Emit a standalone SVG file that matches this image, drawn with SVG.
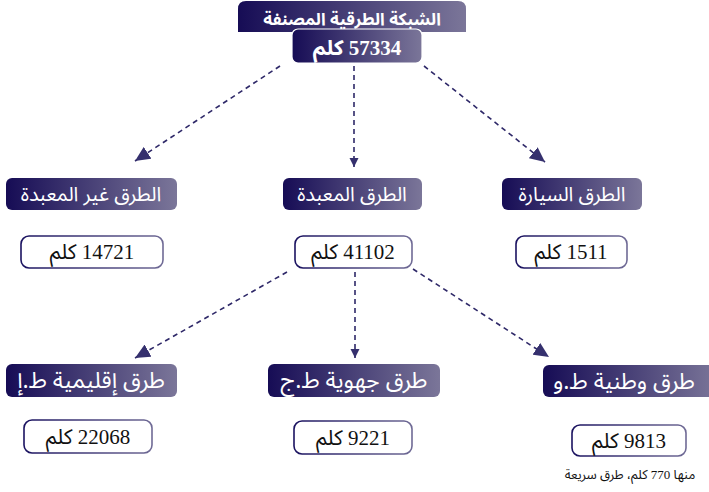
<svg xmlns="http://www.w3.org/2000/svg" width="709" height="492" viewBox="0 0 709 492">
<defs>
<linearGradient id="g" x1="0" y1="0" x2="1" y2="0">
<stop offset="0" stop-color="#160c55"/>
<stop offset="1" stop-color="#7b7699"/>
</linearGradient>
<linearGradient id="gs" x1="0" y1="0" x2="1" y2="0">
<stop offset="0" stop-color="#1a1260"/>
<stop offset="1" stop-color="#6f6a95"/>
</linearGradient>
<marker id="ab" markerUnits="userSpaceOnUse" markerWidth="16" markerHeight="14" refX="15" refY="7" orient="auto">
<path d="M0,0 L15,7 L0,14 Z" fill="#35306e"/>
</marker>
<marker id="as" markerUnits="userSpaceOnUse" markerWidth="10" markerHeight="10" refX="9" refY="4.5" orient="auto">
<path d="M0,0 L9,4.5 L0,9 Z" fill="#35306e"/>
</marker>
<style>
.hd{fill:url(#g)}
.hdt{font-family:"Noto Sans Arabic","DejaVu Sans",sans-serif;fill:#fff;text-anchor:middle;direction:rtl}
.wb{fill:#fff;stroke:url(#gs);stroke-width:1.6}
.wbt{font-family:"Liberation Serif","Noto Sans Arabic","DejaVu Sans",serif;font-size:21px;fill:#111;text-anchor:middle;direction:rtl}
.cn{fill:none;stroke:#2e2868;stroke-width:1.6;stroke-dasharray:5 4}
</style>
</defs>
<g id="connectors">
<line class="cn" x1="280" y1="66" x2="135" y2="161" marker-end="url(#ab)"/>
<line class="cn" x1="354" y1="66" x2="354" y2="167" marker-end="url(#as)"/>
<line class="cn" x1="424" y1="66" x2="545" y2="162" marker-end="url(#ab)"/>
<line class="cn" x1="287" y1="272" x2="135" y2="358" marker-end="url(#ab)"/>
<line class="cn" x1="355" y1="272" x2="355" y2="358" marker-end="url(#as)"/>
<line class="cn" x1="413" y1="269" x2="549" y2="357" marker-end="url(#ab)"/>
</g>
<g id="root">
<path class="hd" d="M238,32 L238,9 Q238,1 246,1 L458,1 Q466,1 466,9 L466,32 Z"/>
<text class="hdt" x="352" y="25" font-size="17" font-weight="bold">الشبكة الطرقية المصنفة</text>
<rect class="hd" x="292" y="29" width="130" height="34" rx="6" stroke="#fff" stroke-width="1.2"/>
<text class="hdt" x="357" y="55" font-size="21" font-weight="bold" style="font-family:'Liberation Serif','Noto Sans Arabic','DejaVu Sans',serif">57334 كلم</text>
</g>
<g id="unpaved">
<rect class="hd" x="6" y="178" width="171" height="32" rx="6"/>
<text class="hdt" x="91" y="201" font-size="20">الطرق غير المعبدة</text>
<rect class="wb" x="21" y="236" width="142" height="32" rx="8"/>
<text class="wbt" x="92" y="259">14721 كلم</text>
</g>
<g id="paved">
<rect class="hd" x="283" y="178" width="139" height="32" rx="6"/>
<text class="hdt" x="352" y="201" font-size="20">الطرق المعبدة</text>
<rect class="wb" x="295" y="236" width="117" height="32" rx="8"/>
<text class="wbt" x="353" y="259">41102 كلم</text>
</g>
<g id="highways">
<rect class="hd" x="502" y="178" width="140" height="32" rx="6"/>
<text class="hdt" x="572" y="201" font-size="20">الطرق السيارة</text>
<rect class="wb" x="516" y="236" width="111" height="32" rx="8"/>
<text class="wbt" x="571" y="259">1511 كلم</text>
</g>
<g id="provincial">
<rect class="hd" x="6" y="364" width="171" height="33" rx="6"/>
<text class="hdt" x="91" y="388" font-size="23">طرق إقليمية ط.إ</text>
<rect class="wb" x="24" y="420" width="128" height="33" rx="8"/>
<text class="wbt" x="88" y="444">22068 كلم</text>
</g>
<g id="regional">
<rect class="hd" x="268" y="364" width="172" height="33" rx="6"/>
<text class="hdt" x="354" y="388" font-size="23">طرق جهوية ط.ج</text>
<rect class="wb" x="294" y="421" width="118" height="33" rx="8"/>
<text class="wbt" x="353" y="445">9221 كلم</text>
</g>
<g id="national">
<rect class="hd" x="543" y="365" width="175" height="32" rx="6"/>
<text class="hdt" x="624" y="389" font-size="23">طرق وطنية ط.و</text>
<rect class="wb" x="572" y="425" width="114" height="31" rx="8"/>
<text class="wbt" x="629" y="448">9813 كلم</text>
<text x="630" y="479" font-family="'Liberation Serif','Noto Sans Arabic','DejaVu Sans',serif" font-size="13" fill="#111" text-anchor="middle" direction="rtl">منها 770 كلم، طرق سريعة</text>
</g>
</svg>
